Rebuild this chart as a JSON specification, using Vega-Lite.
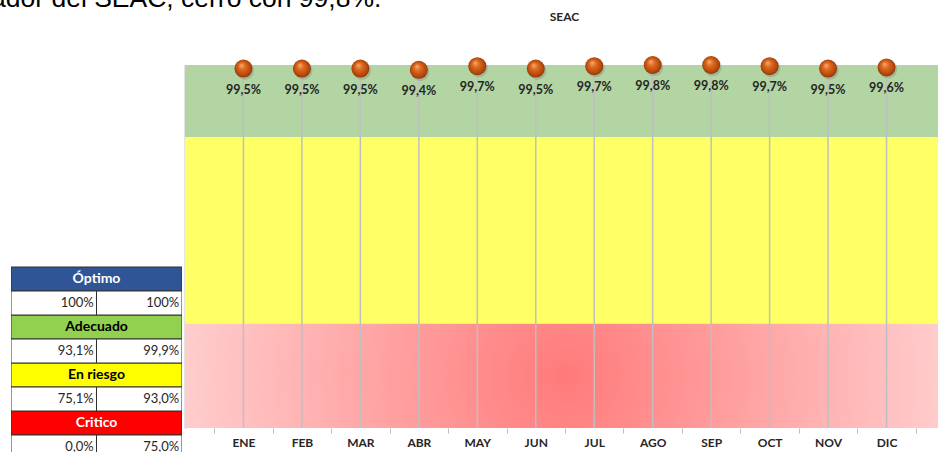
{
  "$schema": "https://vega.github.io/schema/vega-lite/v6.json",
  "padding": {"left": -9, "top": -15, "right": 0, "bottom": 0},
  "autosize": {"type": "pad"},
  "background": "white",
  "config": {
    "view": {"stroke": null},
    "font": "Lato",
    "locale": {"number": {"decimal": ",", "thousands": ".", "grouping": [3], "currency": ["", " €"]}}
  },
  "datasets": {
    "meses": [
      {"mes": "ENE", "valor": 0.995},
      {"mes": "FEB", "valor": 0.995},
      {"mes": "MAR", "valor": 0.995},
      {"mes": "ABR", "valor": 0.994},
      {"mes": "MAY", "valor": 0.997},
      {"mes": "JUN", "valor": 0.995},
      {"mes": "JUL", "valor": 0.997},
      {"mes": "AGO", "valor": 0.998},
      {"mes": "SEP", "valor": 0.998},
      {"mes": "OCT", "valor": 0.997},
      {"mes": "NOV", "valor": 0.995},
      {"mes": "DIC", "valor": 0.996}
    ],
    "bandas": [
      {"banda": "Adecuado", "desde": 0.938, "hasta": 0.998},
      {"banda": "En riesgo", "desde": 0.782, "hasta": 0.938},
      {"banda": "Critico", "desde": 0.695, "hasta": 0.782}
    ],
    "tabla": [
      {"fila": 1, "tipo": "encabezado", "texto": "Óptimo"},
      {"fila": 2, "tipo": "valor", "col": 1, "texto": "100%"},
      {"fila": 2, "tipo": "valor", "col": 2, "texto": "100%"},
      {"fila": 3, "tipo": "encabezado", "texto": "Adecuado"},
      {"fila": 4, "tipo": "valor", "col": 1, "texto": "93,1%"},
      {"fila": 4, "tipo": "valor", "col": 2, "texto": "99,9%"},
      {"fila": 5, "tipo": "encabezado", "texto": "En riesgo"},
      {"fila": 6, "tipo": "valor", "col": 1, "texto": "75,1%"},
      {"fila": 6, "tipo": "valor", "col": 2, "texto": "93,0%"},
      {"fila": 7, "tipo": "encabezado", "texto": "Critico"},
      {"fila": 8, "tipo": "valor", "col": 1, "texto": "0,0%"},
      {"fila": 8, "tipo": "valor", "col": 2, "texto": "75,0%"}
    ]
  },
  "spacing": 3,
  "bounds": "flush",
  "resolve": {"scale": {"color": "independent", "x": "independent", "y": "independent"}},
  "hconcat": [
    {
      "width": 171,
      "height": 388,
      "title": {
        "text": "ador del SEAC, cerró con 99,8%.",
        "anchor": "start",
        "frame": "group",
        "orient": "top",
        "font": "Liberation Sans",
        "fontSize": 26.5,
        "fontWeight": "normal",
        "color": "#000000",
        "baseline": "alphabetic",
        "offset": 32,
        "dx": -20
      },
      "data": {"name": "tabla"},
      "encoding": {
        "y": {"field": "fila", "type": "quantitative", "scale": {"domain": [-7.9167, 8.25], "reverse": true, "nice": false, "zero": false}, "axis": null}
      },
      "layer": [
        {
          "transform": [{"filter": "datum.tipo == 'encabezado'"}],
          "mark": {"type": "rect", "height": 24, "width": 171, "stroke": "#303030", "strokeWidth": 1, "clip": true},
          "encoding": {
            "x": {"datum": 1.5, "type": "quantitative", "scale": {"domain": [0.5, 2.5], "nice": false, "zero": false}, "axis": null},
            "color": {"field": "texto", "type": "nominal", "scale": {"domain": ["Óptimo", "Adecuado", "En riesgo", "Critico"], "range": ["#2F5597", "#92D050", "#FFFF00", "#FF0000"]}, "legend": null}
          }
        },
        {
          "transform": [{"filter": "datum.tipo == 'valor'"}],
          "mark": {"type": "rect", "height": 24, "width": 85.5, "fill": "#FFFFFF", "stroke": "#303030", "strokeWidth": 1, "clip": true},
          "encoding": {
            "x": {"field": "col", "type": "quantitative"}
          }
        },
        {
          "transform": [{"filter": "datum.tipo == 'encabezado'"}],
          "mark": {"type": "text", "fontSize": 14, "fontWeight": "bold", "font": "Lato", "baseline": "middle", "align": "center", "clip": true},
          "encoding": {
            "x": {"datum": 1.5, "type": "quantitative"},
            "text": {"field": "texto"},
            "color": {"condition": {"test": "datum.texto == 'Óptimo' || datum.texto == 'Critico'", "value": "#FFFFFF"}, "value": "#000000"}
          }
        },
        {
          "transform": [{"filter": "datum.tipo == 'valor'"}],
          "mark": {"type": "text", "fontSize": 13, "font": "Lato", "baseline": "middle", "align": "right", "dx": 40, "color": "#262626", "clip": true},
          "encoding": {
            "x": {"field": "col", "type": "quantitative"},
            "text": {"field": "texto"}
          }
        }
      ]
    },
    {
      "width": 753,
      "height": 363,
      "title": {
        "text": "SEAC",
        "anchor": "middle",
        "font": "Lato",
        "fontSize": 12,
        "fontWeight": "bold",
        "color": "#262626",
        "baseline": "alphabetic",
        "offset": 23,
        "dx": 3
      },
      "layer": [
        {
          "data": {"name": "bandas"},
          "transform": [{"filter": "datum.banda != 'Critico'"}],
          "mark": {"type": "rect"},
          "encoding": {
            "x": {"value": 0},
            "x2": {"value": "width"},
            "y": {"field": "desde", "type": "quantitative", "scale": {"domain": [0.695, 0.998], "nice": false, "zero": false},
                  "axis": {"title": null, "labels": false, "ticks": false, "grid": false, "domain": true, "domainColor": "#C8C8C8", "domainWidth": 2}},
            "y2": {"field": "hasta"},
            "color": {"field": "banda", "type": "nominal", "scale": {"domain": ["Adecuado", "En riesgo"], "range": ["#B2D5A3", "#FFFF66"]}, "legend": null}
          }
        },
        {
          "data": {"name": "bandas"},
          "transform": [{"filter": "datum.banda == 'Critico'"}],
          "mark": {
            "type": "rect",
            "fill": {
              "gradient": "radial",
              "x1": 0.505, "y1": 0.5, "r1": 0,
              "x2": 0.505, "y2": 0.5, "r2": 0.6,
              "stops": [
                {"offset": 0, "color": "#FF7A7A"},
                {"offset": 1, "color": "#FFDCDC"}
              ]
            }
          },
          "encoding": {
            "x": {"value": 0},
            "x2": {"value": "width"},
            "y": {"field": "desde", "type": "quantitative"},
            "y2": {"field": "hasta"}
          }
        },
        {
          "data": {"name": "meses"},
          "mark": {"type": "rule", "color": "#BFBFBF", "strokeWidth": 1.5},
          "encoding": {
            "x": {"field": "mes", "type": "ordinal", "sort": null,
                  "scale": {"type": "band", "range": [0, 760], "paddingInner": 0, "paddingOuter": 0.5},
                  "axis": {"title": null, "domain": false, "grid": false, "tickBand": "extent", "tickColor": "#BFBFBF", "tickSize": 5, "tickWidth": 1,
                           "labelFont": "Lato", "labelFontWeight": "bold", "labelFontSize": 12, "labelColor": "#262626", "labelPadding": 4, "labelAngle": 0}},
            "y": {"field": "valor", "type": "quantitative"},
            "y2": {"datum": 0.695}
          }
        },
        {
          "data": {"name": "meses"},
          "mark": {"type": "point", "filled": true, "size": 330, "color": "#7F7F7F", "opacity": 0.35, "xOffset": 1.5, "yOffset": 2},
          "encoding": {
            "x": {"field": "mes", "type": "ordinal", "sort": null},
            "y": {"field": "valor", "type": "quantitative"}
          }
        },
        {
          "data": {"name": "meses"},
          "mark": {
            "type": "point", "filled": true, "size": 324, "opacity": 1,
            "fill": {
              "gradient": "radial",
              "x1": 0.38, "y1": 0.3, "r1": 0,
              "x2": 0.5, "y2": 0.5, "r2": 0.55,
              "stops": [
                {"offset": 0, "color": "#F6B07A"},
                {"offset": 0.35, "color": "#DE6A1F"},
                {"offset": 0.8, "color": "#B0460C"},
                {"offset": 1, "color": "#7A2E05"}
              ]
            }
          },
          "encoding": {
            "x": {"field": "mes", "type": "ordinal", "sort": null},
            "y": {"field": "valor", "type": "quantitative"}
          }
        },
        {
          "data": {"name": "meses"},
          "mark": {"type": "text", "font": "Lato", "fontSize": 12.5, "fontWeight": "bold", "color": "#262626", "baseline": "middle", "dy": 21},
          "encoding": {
            "x": {"field": "mes", "type": "ordinal", "sort": null},
            "y": {"field": "valor", "type": "quantitative"},
            "text": {"field": "valor", "type": "quantitative", "format": ".1%"}
          }
        }
      ]
    }
  ]
}
